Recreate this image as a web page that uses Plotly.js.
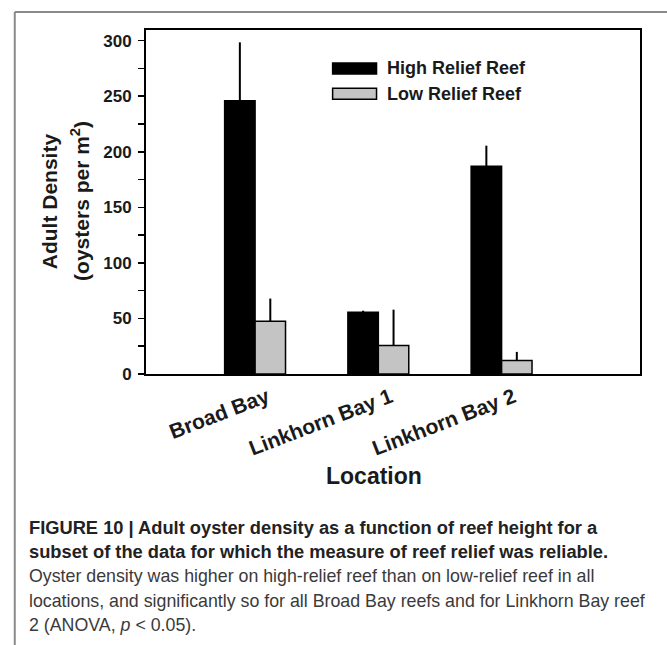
<!DOCTYPE html>
<html>
<head>
<meta charset="utf-8">
<script src="https://cdn.plot.ly/plotly-3.0.1.min.js"></script>
<style>html,body{margin:0;padding:0;background:#fff;}#chart{width:667px;height:645px;}</style>
</head>
<body>
<div id="chart"></div>
<script>
// ---- data ----
const categories = ['Broad Bay', 'Linkhorn Bay 1', 'Linkhorn Bay 2'];
const seriesNames = ['High Relief Reef', 'Low Relief Reef'];
const highValues = [246, 55.5, 187];
const highErrors = [52.5, 1.5, 18.5];
const lowValues = [47.5, 25.6, 12.1];
const lowErrors = [20.4, 32.3, 7.8];
const yTickValues = [0, 50, 100, 150, 200, 250, 300];
const yTitleLines = ['Adult Density', '(oysters per m<sup>2</sup>)'];
const xTitle = 'Location';
const captionLines = [
  '<b>FIGURE 10 | Adult oyster density as a function of reef height for a</b>',
  '<b>subset of the data for which the measure of reef relief was reliable.</b>',
  'Oyster density was higher on high-relief reef than on low-relief reef in all',
  'locations, and significantly so for all Broad Bay reefs and for Linkhorn Bay reef',
  '2 (ANOVA, <i>p</i> &lt; 0.05).'
];

// ---- layout geometry (pixels) ----
const W = 667, H = 645;
const L = 145.5, R = 640.5, T = 30, B = 374.5;
const px = v => (v - L) / (R - L);
const py = v => (B - v) / (B - T);

const colors = ['#000000', '#c4c4c4'];
const font = 'Arial, "Liberation Sans", Helvetica, sans-serif';

const zeros = categories.map(() => 0);
const traces = [
  {type: 'bar', name: seriesNames[0], x: categories, y: highValues,
   marker: {color: colors[0], line: {color: '#000', width: 1.5}},
   error_y: {type: 'data', symmetric: false, array: highErrors, arrayminus: zeros,
             color: '#000', thickness: 2, width: 0}},
  {type: 'bar', name: seriesNames[1], x: categories, y: lowValues,
   marker: {color: colors[1], line: {color: '#000', width: 1.5}},
   error_y: {type: 'data', symmetric: false, array: lowErrors, arrayminus: zeros,
             color: '#000', thickness: 2, width: 0}}
];

const annotations = [];
const shapes = [];

// y-axis title (two lines)
[48.3, 80].forEach((xc, i) => {
  annotations.push({xref: 'paper', yref: 'paper', x: px(xc), y: py(201.5),
    xanchor: 'center', yanchor: 'middle', textangle: -90, showarrow: false,
    text: '<b>' + yTitleLines[i] + '</b>', font: {family: font, size: 21, color: '#1a1a1a'}});
});
// x-axis title
annotations.push({xref: 'paper', yref: 'paper', x: px(374), y: py(477),
  xanchor: 'center', yanchor: 'middle', showarrow: false,
  text: '<b>' + xTitle + '</b>', font: {family: font, size: 23, color: '#1a1a1a'}});

// legend (manual)
const legRows = [68.5, 93.8];
seriesNames.forEach((nm, i) => {
  shapes.push({type: 'rect', xref: 'paper', yref: 'paper',
    x0: px(332.5), x1: px(376.5), y0: py(legRows[i] - 5.5), y1: py(legRows[i] + 5.5),
    fillcolor: colors[i], line: {color: '#000', width: 1.5}});
  annotations.push({xref: 'paper', yref: 'paper', x: px(385), y: py(legRows[i]),
    xanchor: 'left', yanchor: 'middle', showarrow: false,
    text: '<b>' + nm + '</b>', font: {family: font, size: 18, color: '#1a1a1a'}});
});

// caption
const capY = [528, 552.5, 577, 601.5, 626];
captionLines.forEach((t, i) => {
  annotations.push({xref: 'paper', yref: 'paper', x: px(26.5), y: py(capY[i]),
    xanchor: 'left', yanchor: 'middle', align: 'left', showarrow: false,
    text: t, font: {family: font, size: i < 2 ? 18.3 : 17.8, color: i < 2 ? '#222' : '#3a3a3a'}});
});

// figure frame (left and top rules)
shapes.push({type: 'line', xref: 'paper', yref: 'paper', x0: px(14), x1: px(14), y0: py(12), y1: py(H + 5),
  line: {color: '#8a8a8a', width: 2}});
shapes.push({type: 'line', xref: 'paper', yref: 'paper', x0: px(14), x1: px(W + 5), y0: py(12), y1: py(12),
  line: {color: '#8a8a8a', width: 2}});

const layout = {
  width: W, height: H,
  margin: {l: L, r: W - R, t: T, b: H - B, pad: 0},
  paper_bgcolor: '#fff', plot_bgcolor: '#fff',
  showlegend: false,
  barmode: 'group', bargap: 0.506, bargroupgap: 0,
  font: {family: font, color: '#1a1a1a'},
  xaxis: {type: 'category', range: [-0.885, 3.123], showgrid: false, zeroline: false,
    showline: true, linecolor: '#000', linewidth: 2, mirror: true, ticks: '',
    tickangle: -21, ticklabelshift: 12, ticklabelstandoff: 1,
    tickfont: {family: font, size: 21, color: '#1a1a1a', weight: 'bold'}},
  yaxis: {range: [0, 309.6], showgrid: false, zeroline: false,
    showline: true, linecolor: '#000', linewidth: 2, mirror: true,
    tickmode: 'array', tickvals: yTickValues, ticks: 'outside', ticklen: 6, tickwidth: 1.5, tickcolor: '#000',
    minor: {dtick: 25, ticks: 'outside', ticklen: 6, tickwidth: 1.5, tickcolor: '#000'},
    ticklabelstandoff: 3,
    tickfont: {family: font, size: 17, color: '#1a1a1a', weight: 'bold'}},
  shapes: shapes,
  annotations: annotations
};

Plotly.newPlot('chart', traces, layout, {staticPlot: true, displayModeBar: false});
</script>
</body>
</html>
